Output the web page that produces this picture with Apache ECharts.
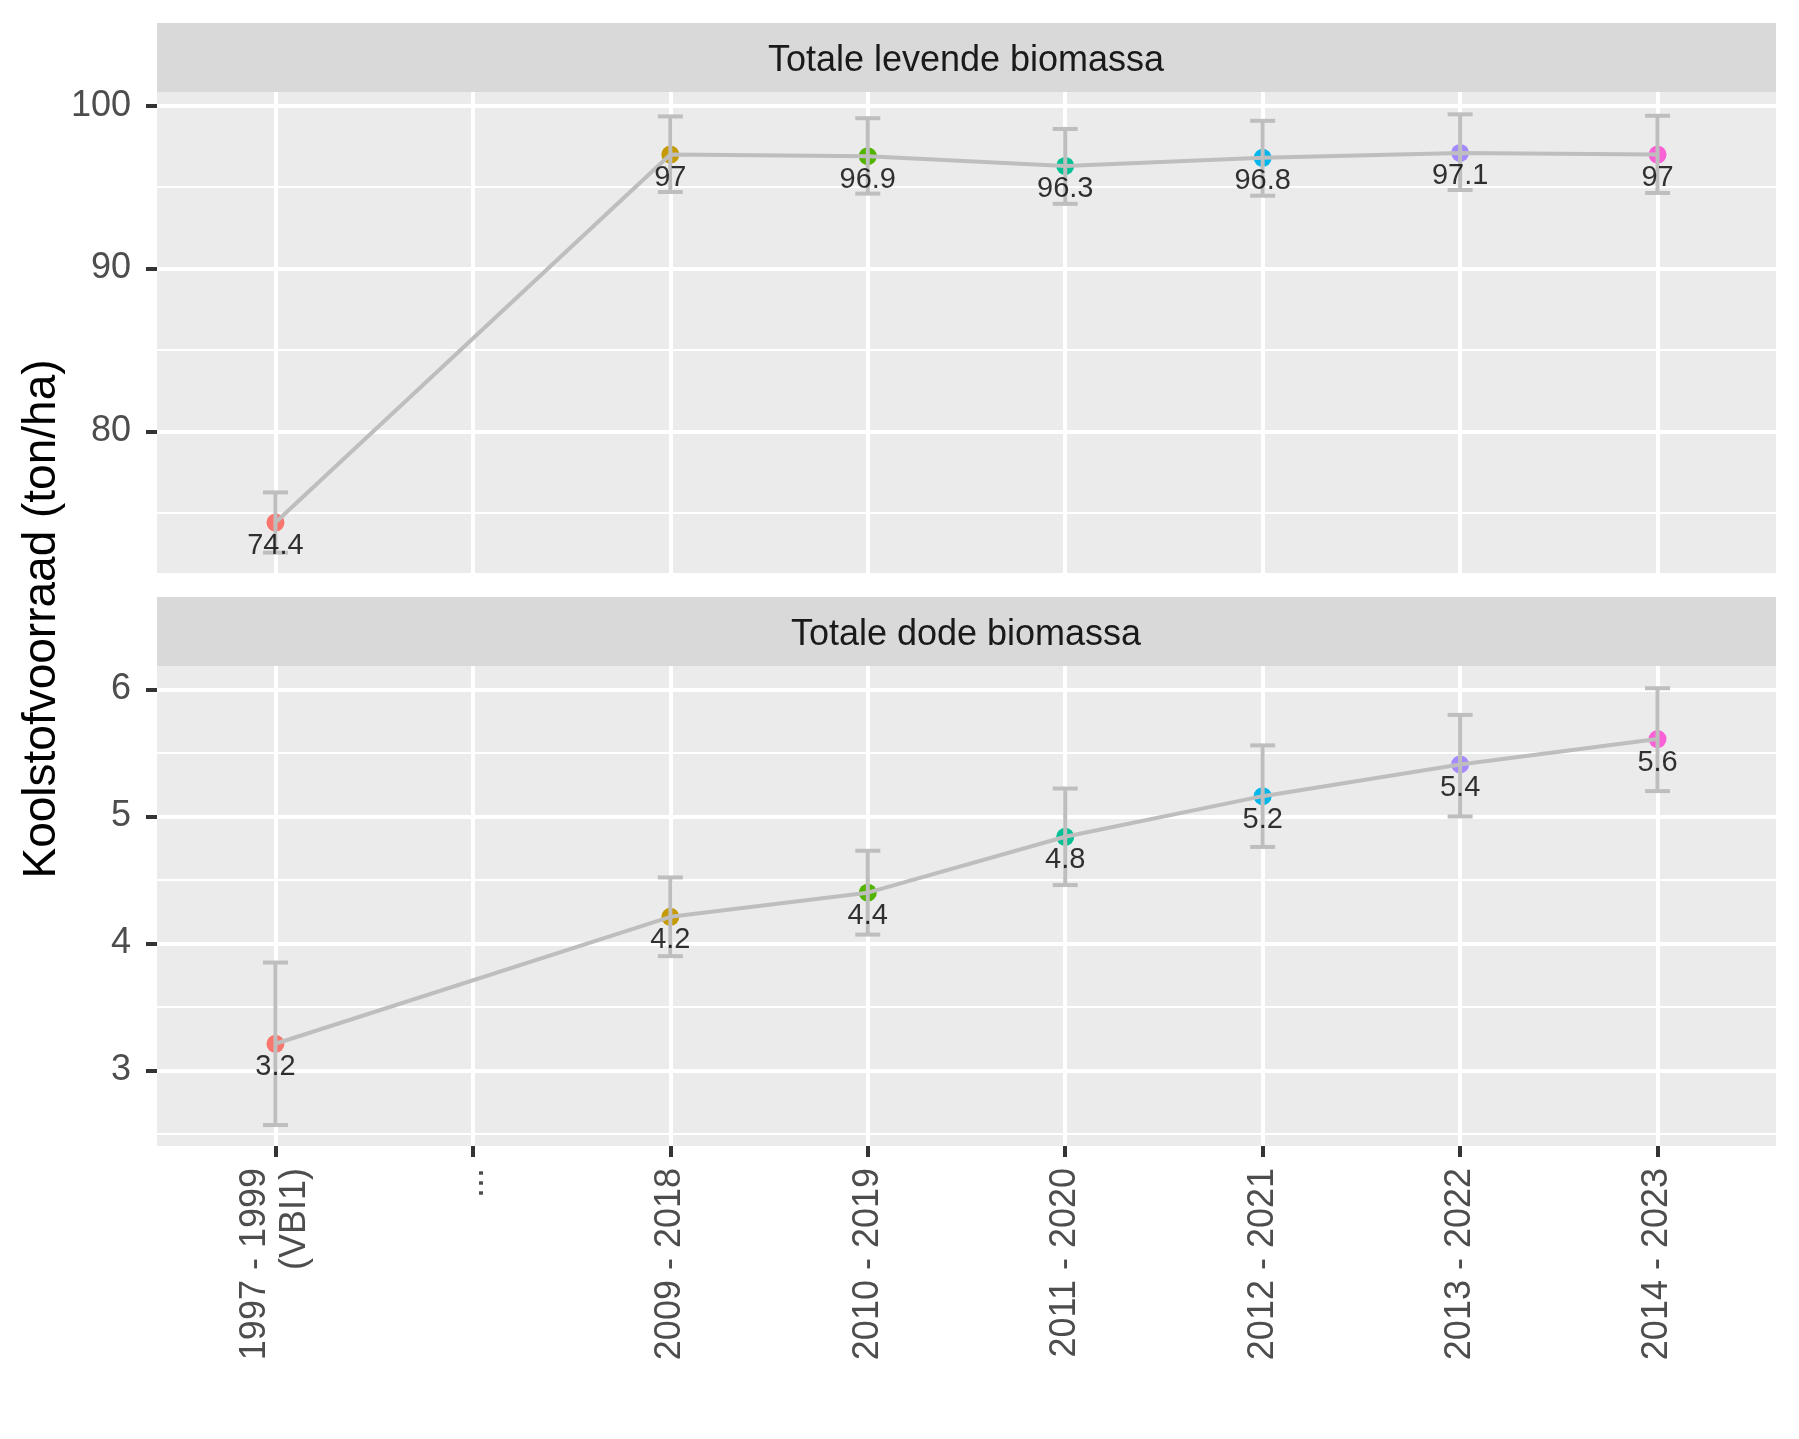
<!DOCTYPE html>
<html>
<head>
<meta charset="utf-8">
<script src="https://cdn.jsdelivr.net/npm/echarts@6/dist/echarts.min.js"></script>
<style>
  html, body { margin: 0; padding: 0; background: #fff; }
  #chart { width: 1799px; height: 1439px; }
</style>
</head>
<body>
<div id="chart"></div>
<script>
// categorieen op de x-as (index 1 is de lege tussenstap)
const categories = ['1997 - 1999\n(VBI1)', '...', '2009 - 2018', '2010 - 2019', '2011 - 2020', '2012 - 2021', '2013 - 2022', '2014 - 2023']
const periodIndex = [0, 2, 3, 4, 5, 6, 7]
const pointColors = ['#F8766D', '#C49A00', '#53B400', '#00C094', '#00B6EB', '#A58AFF', '#FB61D7']

// Totale levende biomassa
const levendValues = [74.4, 97.0, 96.9, 96.3, 96.8, 97.1, 97.0]
const levendLower = [72.55, 94.7, 94.6, 93.97, 94.47, 94.82, 94.64]
const levendUpper = [76.25, 99.34, 99.23, 98.57, 99.07, 99.47, 99.38]
const levendLabels = ['74.4', '97', '96.9', '96.3', '96.8', '97.1', '97']
const levendTicks = [80, 90, 100]
const levendMinor = [75, 85, 95]

// Totale dode biomassa
const dodeValues = [3.21, 4.21, 4.40, 4.84, 5.16, 5.41, 5.61]
const dodeLower = [2.57, 3.9, 4.07, 4.46, 4.76, 5.0, 5.2]
const dodeUpper = [3.85, 4.52, 4.73, 5.22, 5.56, 5.8, 6.01]
const dodeLabels = ['3.2', '4.2', '4.4', '4.8', '5.2', '5.4', '5.6']
const dodeTicks = [3, 4, 5, 6]
const dodeMinor = [2.5, 3.5, 4.5, 5.5]

const FONT = 'Liberation Sans, Arial, sans-serif'
const GREY = '#BEBEBE'
const xTicks = categories.map((c, i) => i)

let chart = echarts.init(document.getElementById('chart'))

function xAxisFor(gridIndex, showLabels) {
  return {
    type: 'value', gridIndex: gridIndex, min: -0.6, max: 7.6,
    axisLine: { show: false },
    axisTick: {
      show: showLabels, customValues: xTicks, length: 11,
      lineStyle: { color: '#333333', width: 4 }
    },
    axisLabel: {
      show: showLabels, customValues: xTicks, rotate: 90, margin: 22,
      fontFamily: FONT, fontSize: 36, color: '#4D4D4D', lineHeight: 40,
      formatter: v => categories[Math.round(v)]
    },
    splitLine: { show: true, lineStyle: { color: '#FFFFFF', width: 4 } }
  }
}

function yAxesFor(gridIndex, min, max, ticks, minor) {
  return [{
    type: 'value', gridIndex: gridIndex, min: min, max: max, position: 'left',
    axisLine: { show: false },
    axisTick: { show: false, customValues: minor },
    axisLabel: { show: false, customValues: minor },
    splitLine: { show: true, lineStyle: { color: '#FFFFFF', width: 2 } }
  }, {
    type: 'value', gridIndex: gridIndex, min: min, max: max, position: 'left',
    axisLine: { show: false },
    axisTick: { show: true, customValues: ticks, length: 11, lineStyle: { color: '#333333', width: 4 } },
    axisLabel: {
      show: true, customValues: ticks, margin: 26,
      fontFamily: FONT, fontSize: 36, color: '#4D4D4D'
    },
    splitLine: { show: true, lineStyle: { color: '#FFFFFF', width: 4 } }
  }]
}

// series voor een paneel: punten, lijn, foutbalken, labels
function panelSeries(axisIdx, values, lower, upper, labels) {
  let xy = values.map((v, i) => [periodIndex[i], v])
  return [{
    type: 'scatter', xAxisIndex: axisIdx, yAxisIndex: axisIdx * 2 + 1, z: 2,
    symbolSize: 18, silent: true,
    data: xy.map((d, i) => ({ value: d, itemStyle: { color: pointColors[i], opacity: 1 } }))
  }, {
    type: 'line', xAxisIndex: axisIdx, yAxisIndex: axisIdx * 2 + 1, z: 3,
    showSymbol: false, symbol: 'none', silent: true,
    lineStyle: { color: GREY, width: 4 },
    data: xy
  }, {
    type: 'custom', xAxisIndex: axisIdx, yAxisIndex: axisIdx * 2 + 1, z: 4, silent: true,
    data: values.map((v, i) => [periodIndex[i], lower[i], upper[i]]),
    encode: { x: 0, y: [1, 2] },
    renderItem: (params, api) => {
      let top = api.coord([api.value(0), api.value(2)])
      let bot = api.coord([api.value(0), api.value(1)])
      let hw = 12.5
      let style = { stroke: GREY, lineWidth: 4 }
      return {
        type: 'group',
        children: [
          { type: 'line', shape: { x1: top[0], y1: top[1], x2: bot[0], y2: bot[1] }, style: style },
          { type: 'line', shape: { x1: top[0] - hw, y1: top[1], x2: top[0] + hw, y2: top[1] }, style: style },
          { type: 'line', shape: { x1: bot[0] - hw, y1: bot[1], x2: bot[0] + hw, y2: bot[1] }, style: style }
        ]
      }
    }
  }, {
    type: 'scatter', xAxisIndex: axisIdx, yAxisIndex: axisIdx * 2 + 1, z: 5,
    symbolSize: 18, silent: true,
    itemStyle: { color: 'rgba(0,0,0,0)' },
    label: {
      show: true, position: 'bottom', distance: 0,
      fontFamily: FONT, fontSize: 29, color: '#000000',
      formatter: p => labels[p.dataIndex]
    },
    data: xy
  }]
}

function strip(y, h, text) {
  return [{
    type: 'rect', left: 157, top: y, silent: true,
    shape: { width: 1619, height: h },
    style: { fill: '#D9D9D9' }
  }, {
    type: 'text', x: 966, y: y + h / 2 + 4, silent: true,
    style: {
      text: text, fontFamily: FONT, fontSize: 36, fill: '#1A1A1A',
      textAlign: 'center', textVerticalAlign: 'middle'
    }
  }]
}

let option = {
  animation: false,
  backgroundColor: '#FFFFFF',
  grid: [
    { left: 157, width: 1619, top: 92, height: 481, show: true, backgroundColor: '#EBEBEB', borderWidth: 0 },
    { left: 157, width: 1619, top: 666, height: 480, show: true, backgroundColor: '#EBEBEB', borderWidth: 0 }
  ],
  xAxis: [xAxisFor(0, false), xAxisFor(1, true)],
  yAxis: yAxesFor(0, 71.3, 100.84, levendTicks, levendMinor)
    .concat(yAxesFor(1, 2.405, 6.185, dodeTicks, dodeMinor)),
  series: panelSeries(0, levendValues, levendLower, levendUpper, levendLabels)
    .concat(panelSeries(1, dodeValues, dodeLower, dodeUpper, dodeLabels)),
  graphic: strip(23, 69, 'Totale levende biomassa')
    .concat(strip(597, 69, 'Totale dode biomassa'))
    .concat([{
      type: 'text', x: 42, y: 619, rotation: Math.PI / 2, silent: true,
      style: {
        text: 'Koolstofvoorraad (ton/ha)', fontFamily: FONT, fontSize: 46, fill: '#000000',
        textAlign: 'center', textVerticalAlign: 'middle'
      }
    }])
}

chart.setOption(option)
</script>
</body>
</html>
